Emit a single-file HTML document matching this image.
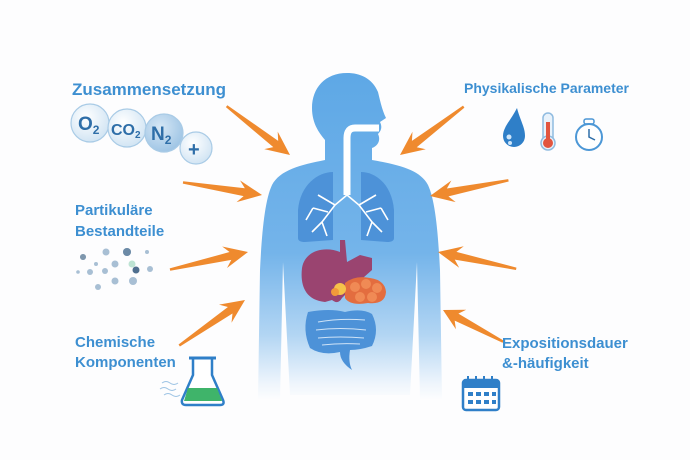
<!DOCTYPE html>
<html><head><meta charset="utf-8"><style>
html,body{margin:0;padding:0;background:#fdfdfe;}
svg{display:block}
text{font-family:"Liberation Sans",sans-serif;font-weight:bold;fill:#3d8fd1}
</style></head><body>
<svg width="690" height="460" viewBox="0 0 690 460" xmlns="http://www.w3.org/2000/svg">
<defs>
<linearGradient id="bg" gradientUnits="userSpaceOnUse" x1="0" y1="73" x2="0" y2="400">
<stop offset="0" stop-color="#5ea8e6"/><stop offset="0.55" stop-color="#74b4ea"/><stop offset="0.8" stop-color="#b2d5f3"/><stop offset="0.95" stop-color="#eef5fc"/><stop offset="1" stop-color="#fdfdfe"/>
</linearGradient>
<radialGradient id="bub" cx="0.4" cy="0.35" r="0.7"><stop offset="0" stop-color="#ffffff"/><stop offset="1" stop-color="#cfe3f3"/></radialGradient>
<radialGradient id="bub2" cx="0.4" cy="0.35" r="0.7"><stop offset="0" stop-color="#d6e7f5"/><stop offset="1" stop-color="#9cc3e4"/></radialGradient>
<g id="arr"><polygon points="-80,-1.2 -18,-4 -24,-11 0,0 -24,11 -18,4 -80,1.2" fill="#ef8a2e"/></g>
</defs>
<rect width="690" height="460" fill="#fdfdfe"/>
<!-- body -->
<path d="M347,73 C325,73 312,88 312,108 C312,122 318,132 325,140 L325,160 C300,165 280,170 272,185 C265,200 262,230 260,270 L258,400 L280,400 L283,262 L290,395 L410,395 L417,262 L420,400 L442,400 L440,270 C438,230 435,200 428,185 C420,170 400,165 372,160 L372,148 C378,146 381,140 378,134 C382,130 382,126 380,122 L386,118 C382,110 380,100 378,92 C372,78 360,73 347,73 Z" fill="url(#bg)"/>
<!-- trachea -->
<path d="M379,128 L355,128 Q347,128 347,138 L347,195" stroke="#fff" stroke-width="7" fill="none"/>
<!-- lungs -->
<path d="M333,172 C318,172 300,185 298,210 L298,238 Q298,242 305,242 L333,240 Z" fill="#4d92d8"/>
<path d="M361,172 C376,172 392,185 394,210 L394,238 Q394,242 387,242 L361,240 Z" fill="#4d92d8"/>
<g stroke="#fff" stroke-width="1.6" fill="none">
<path d="M347,195 L335,205 L322,222 M328,212 L313,208 M322,222 L312,232 M322,222 L327,236 M335,205 L318,195 M313,208 L306,220"/>
<path d="M347,195 L359,205 L372,222 M366,212 L381,208 M372,222 L382,232 M372,222 L367,236 M359,205 L376,195 M381,208 L388,220"/>
</g>
<!-- liver -->
<path d="M340,240 L345,240 L347,262 L360,255 L372,258 L372,270 L355,285 L342,298 Q338,305 332,300 L325,302 C305,300 300,285 302,268 C305,250 325,246 340,252 Z" fill="#9a4470"/>
<!-- pancreas -->
<path d="M345,283 Q355,275 370,278 Q385,280 386,292 Q385,305 368,303 Q350,306 345,298 Z" fill="#e36d3f"/>
<g fill="#f08a55"><circle cx="355" cy="287" r="5"/><circle cx="366" cy="284" r="5"/><circle cx="377" cy="288" r="5"/><circle cx="360" cy="297" r="5"/><circle cx="372" cy="297" r="5"/></g>
<circle cx="340" cy="289" r="6" fill="#f6c24a"/><circle cx="335" cy="292" r="4" fill="#f29a3a"/>
<!-- intestines -->
<path d="M308,312 Q330,308 345,312 Q362,308 372,314 Q380,330 372,346 Q360,350 350,350 Q348,362 352,370 Q340,362 340,352 Q322,356 310,348 Q302,330 308,312 Z" fill="#4d92d8"/>
<g stroke="#cfe3f7" stroke-width="1" fill="none"><path d="M318,322 Q340,318 365,320 M316,330 Q340,327 366,330 M318,338 Q340,336 364,338 M322,345 Q340,343 360,344"/></g>
<!-- arrows -->
<use href="#arr" transform="translate(290,155) rotate(37.6)"/>
<use href="#arr" transform="translate(262,195) rotate(9)"/>
<use href="#arr" transform="translate(248,252) rotate(-12.7)"/>
<use href="#arr" transform="translate(245,300) rotate(-34.7)"/>
<use href="#arr" transform="translate(400,155) rotate(142.8)"/>
<use href="#arr" transform="translate(430,196) rotate(168.7)"/>
<use href="#arr" transform="translate(438,252) rotate(192.1)"/>
<use href="#arr" transform="translate(443,310) rotate(207.8) scale(0.85,1)"/>
<!-- labels -->
<text x="72" y="95" font-size="17">Zusammensetzung</text>
<text x="464" y="93" font-size="14">Physikalische Parameter</text>
<text x="75" y="215" font-size="15">Partikuläre</text>
<text x="75" y="236" font-size="15">Bestandteile</text>
<text x="75" y="347" font-size="15">Chemische</text>
<text x="75" y="367" font-size="15">Komponenten</text>
<text x="502" y="348" font-size="15">Expositionsdauer</text>
<text x="502" y="368" font-size="15">&amp;-häufigkeit</text>
<!-- bubbles -->
<g stroke="#a9cbe6" stroke-width="1.2">
<circle cx="90" cy="123" r="19" fill="url(#bub)"/>
<circle cx="127" cy="128" r="19" fill="url(#bub)"/>
<circle cx="164" cy="133" r="19" fill="url(#bub2)"/>
<circle cx="196" cy="148" r="16" fill="url(#bub)"/>
</g>
<g>
<text x="78" y="130" font-size="19" font-weight="normal" style="fill:#2e6ea8">O<tspan font-size="12" dy="4">2</tspan></text>
<text x="111" y="135" font-size="16" font-weight="normal" style="fill:#2e6ea8">CO<tspan font-size="10" dy="3">2</tspan></text>
<text x="151" y="140" font-size="19" font-weight="normal" style="fill:#2e6ea8">N<tspan font-size="12" dy="4">2</tspan></text>
<text x="188" y="156" font-size="20" font-weight="normal" style="fill:#2e6ea8">+</text>
</g>
<!-- particles -->
<g fill="#a8bfd4">
<circle cx="83" cy="257" r="3"/><circle cx="106" cy="252" r="3.5"/><circle cx="127" cy="252" r="4"/><circle cx="147" cy="252" r="2"/><circle cx="96" cy="264" r="2"/><circle cx="115" cy="264" r="3.5"/><circle cx="78" cy="272" r="1.8"/><circle cx="90" cy="272" r="3"/><circle cx="105" cy="271" r="3"/><circle cx="150" cy="269" r="3"/><circle cx="115" cy="281" r="3.5"/><circle cx="133" cy="281" r="4"/><circle cx="98" cy="287" r="3"/>
<circle cx="136" cy="270" r="3.5" fill="#4f6f8f"/><circle cx="127" cy="252" r="4" fill="#6c8aa6"/><circle cx="132" cy="264" r="3.5" fill="#bde3d3"/><circle cx="83" cy="257" r="3" fill="#7f97ad"/>
</g>
<!-- drop -->
<path d="M517,108 C511,120 503,127 503,136 A10,10 0 0 0 525,136 C525,127 520,120 517,108 Z" fill="#2f7fc8"/>
<circle cx="509" cy="137" r="2.5" fill="#cfe6fa"/><circle cx="510" cy="143" r="2" fill="#cfe6fa"/>
<!-- thermometer -->
<rect x="543" y="113" width="10" height="32" rx="5" fill="#e8f2fb" stroke="#8fbbe0" stroke-width="1.5"/>
<circle cx="548" cy="143" r="7" fill="#e8f2fb" stroke="#8fbbe0" stroke-width="1.5"/>
<rect x="546" y="122" width="4" height="20" fill="#e2553f"/><circle cx="548" cy="143" r="5" fill="#e2553f"/>
<!-- stopwatch -->
<circle cx="589" cy="137" r="13" fill="#fff" stroke="#4c97d6" stroke-width="2"/>
<rect x="584" y="119" width="10" height="5" rx="2" fill="none" stroke="#4c97d6" stroke-width="1.5"/>
<path d="M589,129 L589,137 L595,140" stroke="#2e6ea8" stroke-width="1.5" fill="none"/>
<!-- flask -->
<path d="M193,358 L193,375 L182,400 Q181,405 186,405 L220,405 Q225,405 223,400 L212,375 L212,358" fill="#fff" stroke="#2f7fc8" stroke-width="2.5"/>
<line x1="189" y1="358" x2="216" y2="358" stroke="#2f7fc8" stroke-width="3"/>
<path d="M188,388 L217,388 L222,401 L184,401 Z" fill="#3fb46a"/>
<g stroke="#9cc3e4" stroke-width="1" fill="none"><path d="M162,383 q4,-3 8,0 t8,0 M160,389 q4,-3 8,0 t8,0 M164,395 q4,-3 8,0 t8,0"/></g>
<!-- calendar -->
<rect x="463" y="380" width="36" height="30" rx="3" fill="#fff" stroke="#2f7fc8" stroke-width="2.5"/>
<rect x="463" y="380" width="36" height="8" fill="#2f7fc8"/>
<g fill="#2f7fc8"><rect x="468" y="392" width="5" height="4"/><rect x="476" y="392" width="5" height="4"/><rect x="484" y="392" width="5" height="4"/><rect x="492" y="392" width="4" height="4"/>
<rect x="468" y="400" width="5" height="4"/><rect x="476" y="400" width="5" height="4"/><rect x="484" y="400" width="5" height="4"/><rect x="492" y="400" width="4" height="4"/>
<rect x="467" y="376" width="2" height="6"/><rect x="475" y="376" width="2" height="6"/><rect x="483" y="376" width="2" height="6"/><rect x="491" y="376" width="2" height="6"/></g>
</svg>
</body></html>
